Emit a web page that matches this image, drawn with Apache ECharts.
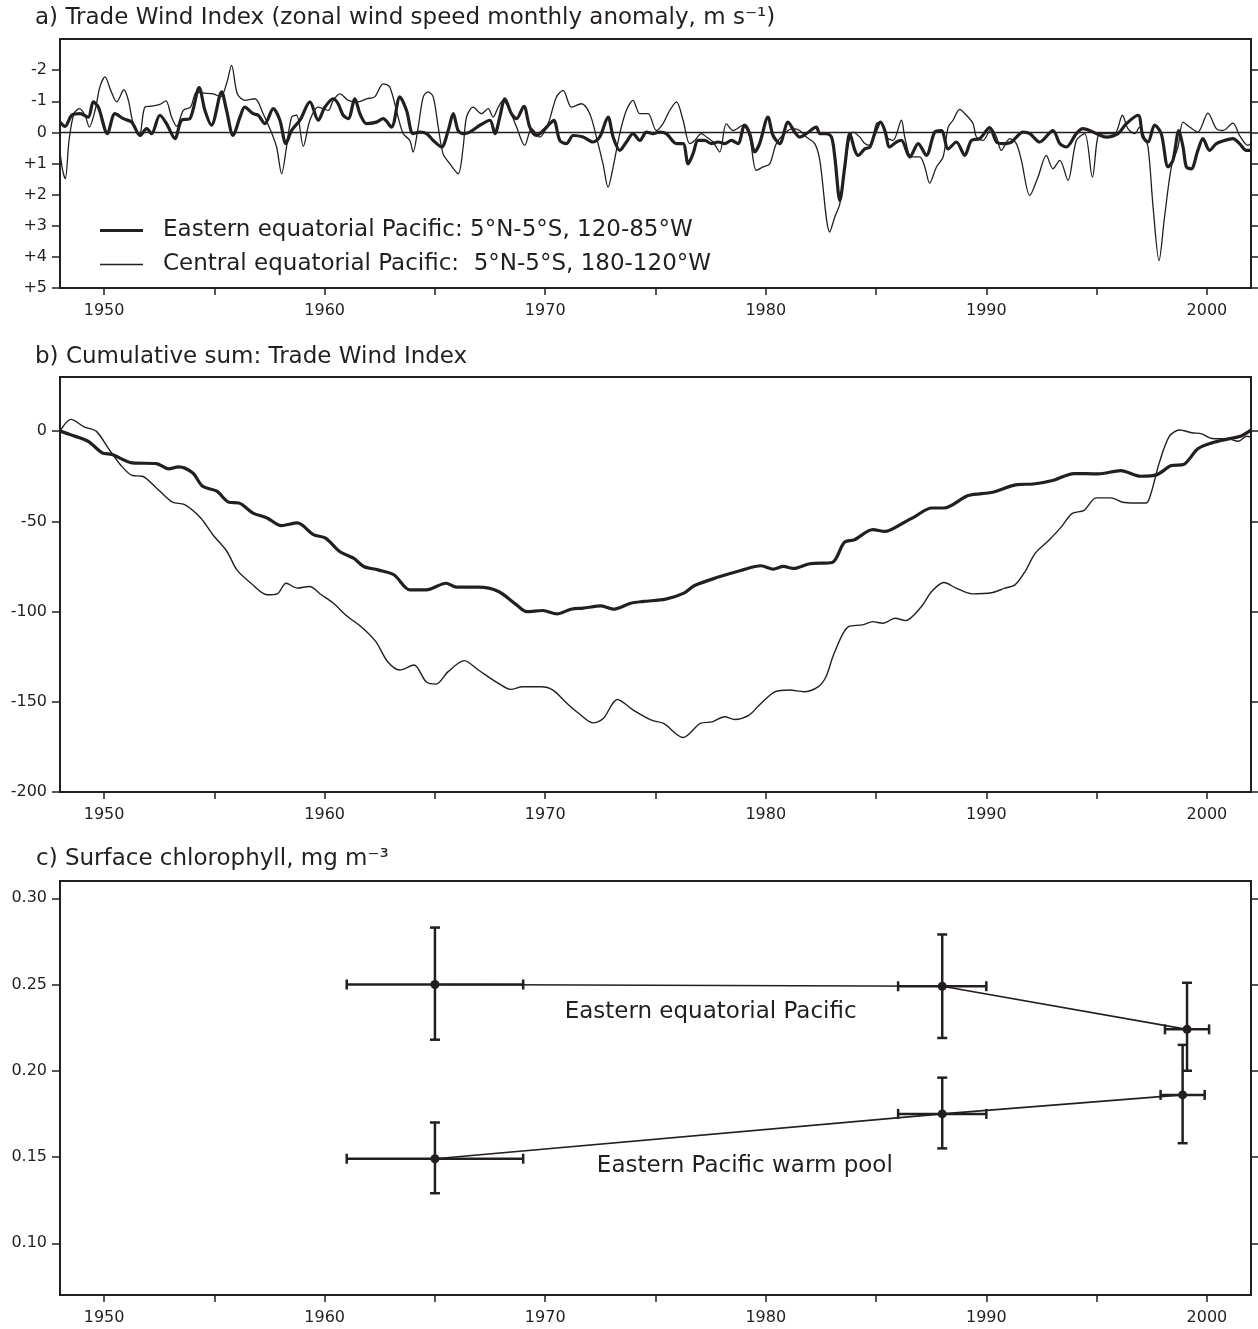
<!DOCTYPE html>
<html>
<head>
<meta charset="utf-8">
<script src="https://cdn.jsdelivr.net/npm/echarts@6/dist/echarts.min.js"></script>
<style>
  html, body { margin: 0; padding: 0; background: #fff; }
  #chart { width: 1258px; height: 1329px; }
</style>
</head>
<body>
<div id="chart"></div>
<script>
// axis ticks / labels
const yearTicks = [1950, 1955, 1960, 1965, 1970, 1975, 1980, 1985, 1990, 1995, 2000]
const yearLabels = [1950, 1960, 1970, 1980, 1990, 2000]
const windTicks = [-2, -1, 0, 1, 2, 3, 4, 5]
const cumTicks = [0, -50, -100, -150, -200]
const chlTicks = [0.10, 0.15, 0.20, 0.25, 0.30]

const eastName = 'Eastern equatorial Pacific: 5°N-5°S, 120-85°W'
const centralName = 'Central equatorial Pacific:  5°N-5°S, 180-120°W'

// a) trade wind index, [year, m/s anomaly]
const eastAnomaly = [
  [1948.00,-0.33],[1948.23,-0.19],[1948.53,-0.55],[1948.91,-0.60],[1949.28,-0.49],[1949.51,-0.98],[1949.74,-0.81],
  [1950.15,0.04],[1950.49,-0.60],[1950.87,-0.44],[1951.25,-0.33],[1951.63,0.10],[1951.93,-0.12],[1952.15,0.04],
  [1952.53,-0.55],[1952.83,-0.28],[1953.21,0.20],[1953.51,-0.39],[1953.89,-0.44],[1954.31,-1.44],[1954.57,-0.71],
  [1954.87,-0.23],[1955.33,-1.30],[1955.55,-0.71],[1955.85,0.10],[1956.16,-0.49],[1956.38,-0.81],[1956.76,-0.60],
  [1956.99,-0.55],[1957.29,-0.28],[1957.67,-0.76],[1957.97,-0.39],[1958.24,0.36],[1958.50,-0.06],[1958.88,-0.39],
  [1959.33,-0.98],[1959.71,-0.39],[1960.01,-0.81],[1960.39,-1.08],[1960.61,-0.92],[1960.84,-0.55],[1961.07,-0.44],
  [1961.37,-1.08],[1961.60,-0.60],[1961.90,-0.28],[1962.35,-0.33],[1962.65,-0.44],[1963.03,-0.17],[1963.41,-1.14],
  [1963.71,-0.71],[1964.01,0.04],[1964.32,-0.01],[1964.62,0.04],[1964.92,0.26],[1965.30,0.47],[1965.60,-0.06],
  [1965.83,-0.60],[1966.05,-0.06],[1966.28,0.04],[1966.58,-0.01],[1967.04,-0.23],[1967.49,-0.39],[1967.72,0.04],
  [1967.94,-0.49],[1968.17,-1.08],[1968.47,-0.60],[1968.70,-0.44],[1969.03,-0.84],[1969.30,-0.17],[1969.60,0.10],
  [1969.91,-0.06],[1970.21,-0.28],[1970.39,-0.39],[1970.66,0.26],[1970.96,0.36],[1971.27,0.10],[1971.72,0.15],
  [1972.17,0.31],[1972.47,0.15],[1972.85,-0.49],[1973.08,0.15],[1973.38,0.58],[1973.68,0.31],[1973.98,0.04],
  [1974.29,0.26],[1974.59,-0.01],[1974.89,0.04],[1975.19,-0.01],[1975.49,0.04],[1975.95,0.36],[1976.25,0.36],
  [1976.48,1.01],[1976.70,0.69],[1976.93,0.26],[1977.23,0.26],[1977.53,0.36],[1977.84,0.31],[1978.14,0.36],
  [1978.44,0.26],[1978.74,0.36],[1979.04,-0.23],[1979.27,0.04],[1979.50,0.63],[1979.72,0.36],[1980.10,-0.49],
  [1980.33,0.10],[1980.63,0.36],[1981.01,-0.33],[1981.31,-0.01],[1981.54,0.15],[1981.84,0.04],[1982.29,-0.17],
  [1982.45,0.04],[1982.75,0.04],[1982.98,0.15],[1983.13,0.79],[1983.36,2.19],[1983.58,1.11],[1983.81,0.04],
  [1984.04,0.58],[1984.19,0.74],[1984.49,0.53],[1984.72,0.47],[1984.94,0.04],[1985.20,-0.33],[1985.40,-0.06],
  [1985.62,0.47],[1985.92,0.31],[1986.15,0.26],[1986.53,0.79],[1986.91,0.36],[1987.28,0.74],[1987.66,-0.01],
  [1987.96,-0.06],[1988.27,0.53],[1988.64,0.31],[1989.02,0.74],[1989.32,0.26],[1989.70,0.20],[1990.15,-0.15],
  [1990.46,0.31],[1990.76,0.36],[1991.14,0.31],[1991.66,-0.01],[1991.97,0.04],[1992.42,0.31],[1993.02,-0.06],
  [1993.33,0.36],[1993.63,0.47],[1994.08,0.04],[1994.38,-0.12],[1994.69,-0.06],[1994.99,0.04],[1995.44,0.15],
  [1995.97,0.04],[1996.35,-0.28],[1996.88,-0.55],[1997.10,0.15],[1997.33,0.31],[1997.63,-0.23],[1997.93,0.04],
  [1998.24,1.11],[1998.46,0.90],[1998.73,-0.06],[1998.92,0.47],[1999.07,1.11],[1999.29,1.17],[1999.59,0.58],
  [1999.82,0.20],[2000.12,0.58],[2000.43,0.36],[2000.80,0.26],[2001.18,0.20],[2001.48,0.36],[2001.79,0.58],
  [2002.00,0.58]
]
const centralAnomaly = [
  [1948.00,0.63],[1948.12,1.22],[1948.24,1.49],[1948.41,0.26],[1948.63,-0.60],[1948.88,-0.76],[1949.13,-0.55],
  [1949.33,-0.17],[1949.59,-0.71],[1949.81,-1.46],[1950.04,-1.78],[1950.30,-1.35],[1950.57,-0.98],[1950.90,-1.37],
  [1951.10,-1.03],[1951.32,-0.28],[1951.60,0.10],[1951.85,-0.81],[1952.15,-0.84],[1952.53,-0.90],[1952.80,-1.01],
  [1953.06,-0.49],[1953.29,-0.19],[1953.59,-0.71],[1953.92,-0.81],[1954.19,-1.29],[1954.53,-1.26],[1954.95,-1.24],
  [1955.28,-1.14],[1955.55,-1.56],[1955.78,-2.15],[1956.04,-1.24],[1956.38,-1.03],[1956.84,-1.08],[1957.21,-0.60],
  [1957.55,-0.06],[1957.82,0.47],[1958.05,1.33],[1958.27,0.47],[1958.50,-0.49],[1958.73,-0.55],[1959.03,0.45],
  [1959.33,-0.39],[1959.71,-0.81],[1960.16,-0.71],[1960.39,-1.03],[1960.69,-1.24],[1961.07,-1.03],[1961.52,-0.98],
  [1961.90,-1.08],[1962.27,-1.14],[1962.65,-1.56],[1962.95,-1.46],[1963.33,-0.49],[1963.56,0.04],[1963.86,0.26],
  [1964.01,0.63],[1964.24,-0.17],[1964.47,-1.14],[1964.69,-1.30],[1964.92,-1.14],[1965.15,-0.17],[1965.37,0.69],
  [1965.68,1.01],[1966.05,1.33],[1966.28,0.47],[1966.43,-0.49],[1966.73,-0.81],[1967.11,-0.60],[1967.41,-0.76],
  [1967.64,-0.49],[1967.87,-0.81],[1968.09,-1.03],[1968.39,-0.71],[1968.70,-0.17],[1969.07,0.42],[1969.38,-0.12],
  [1969.75,0.15],[1970.13,-0.28],[1970.51,-1.14],[1970.81,-1.35],[1971.19,-0.81],[1971.64,-0.92],[1972.02,-0.60],
  [1972.32,0.15],[1972.62,1.01],[1972.85,1.76],[1973.08,1.11],[1973.38,0.04],[1973.68,-0.71],[1973.98,-1.03],
  [1974.29,-0.60],[1974.66,-0.60],[1975.04,-0.06],[1975.34,-0.28],[1975.65,-0.71],[1975.95,-0.98],[1976.25,-0.39],
  [1976.55,0.36],[1976.78,0.26],[1977.08,0.04],[1977.31,0.15],[1977.61,0.31],[1977.91,0.63],[1978.21,-0.28],
  [1978.52,-0.06],[1978.97,-0.23],[1979.27,0.15],[1979.57,1.22],[1979.88,1.11],[1980.18,1.01],[1980.48,0.36],
  [1980.93,-0.01],[1981.23,-0.12],[1981.54,-0.06],[1981.84,0.15],[1982.22,0.36],[1982.45,0.90],[1982.90,3.20],
  [1983.13,2.72],[1983.36,2.29],[1983.58,1.11],[1983.81,0.15],[1983.96,-0.01],[1984.26,0.15],[1984.49,0.36],
  [1984.72,0.42],[1985.02,-0.28],[1985.24,-0.33],[1985.47,0.15],[1985.77,0.26],[1986.15,-0.39],[1986.30,0.15],
  [1986.60,0.79],[1986.98,0.79],[1987.21,1.11],[1987.43,1.63],[1987.74,1.11],[1988.04,0.79],[1988.27,-0.17],
  [1988.49,-0.39],[1988.79,-0.74],[1989.10,-0.55],[1989.40,-0.28],[1989.55,0.15],[1989.85,0.26],[1990.23,-0.12],
  [1990.46,0.15],[1990.68,0.58],[1991.06,0.20],[1991.36,0.36],[1991.59,0.90],[1991.97,2.03],[1992.34,1.44],
  [1992.72,0.74],[1993.02,1.17],[1993.33,0.90],[1993.70,1.54],[1994.08,0.26],[1994.46,0.04],[1994.81,1.44],
  [1995.14,0.04],[1995.59,0.04],[1995.89,-0.01],[1996.17,-0.55],[1996.42,-0.12],[1996.73,0.04],[1996.95,-0.17],
  [1997.10,0.04],[1997.33,0.47],[1997.56,2.40],[1997.83,4.12],[1998.08,2.72],[1998.39,1.11],[1998.69,0.47],
  [1998.92,-0.33],[1999.22,-0.17],[1999.59,-0.01],[2000.05,-0.62],[2000.43,-0.12],[2000.73,-0.06],[2001.18,-0.30],
  [2001.48,0.10],[2001.86,0.42],[2002.00,0.36]
]

// b) cumulative sums, [year, m/s]
const eastCumSum = [
  [1948.0,0],[1948.45,-1.9],[1949.27,-5.6],[1949.91,-12.0],[1950.36,-13.0],[1951.28,-17.6],[1952.37,-18.0],
  [1952.92,-20.9],[1953.38,-19.8],[1954.01,-23.1],[1954.47,-30.6],[1955.11,-33.3],[1955.66,-39.4],[1956.11,-39.8],
  [1956.75,-45.4],[1957.39,-48.1],[1958.03,-52.4],[1958.76,-50.9],[1959.49,-57.4],[1960.04,-59.3],[1960.68,-66.7],
  [1961.31,-70.4],[1961.77,-75.0],[1962.41,-76.9],[1963.14,-79.6],[1963.87,-88.0],[1964.60,-88.0],[1965.51,-84.3],
  [1965.97,-86.5],[1966.97,-86.5],[1967.88,-88.9],[1968.70,-96.3],[1969.16,-100.0],[1969.89,-99.4],[1970.53,-101.3],
  [1971.17,-98.7],[1971.72,-98.1],[1972.54,-96.9],[1973.08,-98.7],[1973.87,-95.4],[1974.45,-94.4],[1975.46,-93.1],
  [1976.29,-89.8],[1976.75,-85.7],[1977.85,-80.9],[1978.87,-77.2],[1979.79,-74.6],[1980.34,-76.5],[1980.80,-75.0],
  [1981.26,-76.1],[1981.99,-73.5],[1983.01,-72.8],[1983.56,-61.7],[1984.02,-60.2],[1984.85,-54.6],[1985.40,-55.6],
  [1986.23,-50.9],[1986.78,-47.2],[1987.52,-42.6],[1988.08,-42.6],[1989.18,-35.7],[1990.29,-33.9],[1991.39,-29.6],
  [1992.13,-29.3],[1993.05,-27.2],[1993.97,-23.5],[1995.07,-23.7],[1996.09,-21.9],[1997.01,-25.0],[1997.74,-24.1],
  [1998.39,-19.1],[1998.94,-18.5],[1999.59,-9.8],[2000.23,-6.5],[2000.97,-4.3],[2001.52,-2.8],[2002.0,0.6]
]
const centralCumSum = [
  [1948.0,0],[1948.5,6.5],[1949.09,2.4],[1949.64,0],[1950.18,-9.3],[1950.73,-18.5],[1951.28,-24.6],[1951.73,-25.0],
  [1952.37,-31.5],[1953.10,-39.4],[1953.65,-40.7],[1954.38,-48.1],[1954.93,-57.4],[1955.57,-66.7],[1956.02,-76.9],
  [1956.66,-84.3],[1957.39,-90.7],[1957.85,-90.2],[1958.25,-84.3],[1958.76,-87.0],[1959.31,-86.1],[1959.85,-90.7],
  [1960.40,-95.4],[1960.95,-101.9],[1961.68,-108.7],[1962.32,-116.7],[1962.86,-127.8],[1963.41,-132.4],[1964.05,-129.6],
  [1964.60,-138.9],[1965.05,-140.2],[1965.60,-133.3],[1966.33,-127.2],[1966.97,-132.4],[1967.88,-139.8],[1968.43,-143.1],
  [1968.98,-141.7],[1969.80,-141.7],[1970.35,-143.5],[1970.99,-150.9],[1971.53,-156.5],[1972.17,-161.7],[1972.63,-159.3],
  [1973.27,-148.7],[1973.99,-154.6],[1974.82,-160.2],[1975.37,-162.0],[1976.25,-169.8],[1977.03,-162.0],[1977.58,-161.1],
  [1978.13,-158.3],[1978.59,-159.8],[1979.24,-157.4],[1979.70,-151.9],[1980.43,-144.4],[1981.08,-143.5],[1981.72,-144.4],
  [1982.37,-141.7],[1982.73,-136.1],[1983.10,-123.1],[1983.75,-108.3],[1984.39,-107.4],[1984.85,-105.6],[1985.31,-106.5],
  [1985.87,-103.7],[1986.33,-105.0],[1987.06,-97.2],[1987.52,-88.9],[1988.08,-83.9],[1988.63,-87.0],[1989.36,-90.2],
  [1990.29,-89.4],[1990.84,-87.0],[1991.30,-85.2],[1991.76,-77.8],[1992.22,-67.6],[1992.86,-60.2],[1993.42,-52.8],
  [1993.88,-45.7],[1994.43,-43.9],[1994.98,-37.0],[1995.63,-37.0],[1996.18,-39.4],[1996.73,-39.8],[1997.25,-39.8],
  [1997.47,-34.3],[1997.84,-17.6],[1998.30,-2.8],[1998.76,0.6],[1999.31,-0.9],[1999.77,-1.5],[2000.23,-4.1],
  [2000.97,-4.3],[2001.43,-5.6],[2001.80,-2.8],[2002.0,-3.1]
]

// c) chlorophyll means with x (years) and y (mg m-3) ranges
const eepPoints = [[1965.0, 0.250], [1988.0, 0.249], [1999.1, 0.224]]
const eepYearRange = [[1961.0, 1969.0], [1986.0, 1990.0], [1998.1, 2000.1]]
const eepChlRange = [[0.218, 0.283], [0.219, 0.279], [0.200, 0.251]]
const poolPoints = [[1965.0, 0.149], [1988.0, 0.175], [1998.9, 0.186]]
const poolYearRange = [[1961.0, 1969.0], [1986.0, 1990.0], [1997.9, 1999.9]]
const poolChlRange = [[0.129, 0.170], [0.155, 0.196], [0.158, 0.215]]
const chlLabels = [
  { name: 'Eastern equatorial Pacific', value: [1977.5, 0.234] },
  { name: 'Eastern Pacific warm pool', value: [1979.05, 0.145] },
]

const ink = '#231f20'
const font = 'DejaVu Sans'

const chart = echarts.init(document.getElementById('chart'))

const yearAxis = (gridIndex) => ({
  type: 'value',
  gridIndex,
  min: 1948,
  max: 2002,
  splitLine: { show: false },
  axisLine: { onZero: false, lineStyle: { color: ink, width: 2 } },
  axisTick: { length: 7, customValues: yearTicks, lineStyle: { color: ink, width: 1.5 } },
  axisLabel: {
    customValues: yearLabels,
    formatter: (v) => String(v),
    margin: 15,
    fontSize: 16,
    color: ink,
    fontFamily: font,
  },
})

const valueAxis = (gridIndex, position, min, max, ticks, formatter, inverse) => ({
  type: 'value',
  gridIndex,
  position,
  min,
  max,
  inverse: !!inverse,
  splitLine: { show: false },
  axisLine: { show: true, onZero: false, lineStyle: { color: ink, width: 2 } },
  axisTick: { length: 8, customValues: ticks, lineStyle: { color: ink, width: 1.5 } },
  axisLabel: {
    show: position === 'left',
    customValues: ticks,
    formatter,
    margin: 13,
    fontSize: 16,
    color: ink,
    fontFamily: font,
  },
})

const signed = (v) => (v > 0 ? '+' + v : String(v))
const twoDp = (v) => v.toFixed(2)

// 误差棒: horizontal = year range, vertical = chlorophyll range
const errorBar = (params, api) => {
  const x = api.value(0)
  const y = api.value(1)
  const mid = api.coord([x, y])
  const left = api.coord([api.value(2), y])
  const right = api.coord([api.value(3), y])
  const low = api.coord([x, api.value(4)])
  const high = api.coord([x, api.value(5)])
  const cap = 5
  const style = { stroke: ink, lineWidth: 2.5 }
  const seg = (x1, y1, x2, y2) => ({ type: 'line', shape: { x1, y1, x2, y2 }, style })
  return {
    type: 'group',
    children: [
      seg(left[0], mid[1], right[0], mid[1]),
      seg(left[0], mid[1] - cap, left[0], mid[1] + cap),
      seg(right[0], mid[1] - cap, right[0], mid[1] + cap),
      seg(mid[0], low[1], mid[0], high[1]),
      seg(mid[0] - cap, low[1], mid[0] + cap, low[1]),
      seg(mid[0] - cap, high[1], mid[0] + cap, high[1]),
    ],
  }
}

const barData = (points, xr, yr) => points.map((p, i) => [p[0], p[1], xr[i][0], xr[i][1], yr[i][0], yr[i][1]])

const wiggle = (name, data, xi, yi, width, extra) => ({
  name,
  type: 'line',
  xAxisIndex: xi,
  yAxisIndex: yi,
  data,
  symbol: 'none',
  smooth: 0.3,
  lineStyle: { color: ink, width },
  itemStyle: { color: ink },
  ...extra,
})

// one legend per row so each key line can get its own thickness
const keyRow = (name, top, thickness) => ({
  left: 100,
  top,
  padding: 0,
  icon: 'rect',
  itemWidth: 43,
  itemHeight: thickness,
  selectedMode: false,
  data: [name],
  itemStyle: { color: ink, borderWidth: 0 },
  textStyle: { fontSize: 23, color: ink, fontFamily: font, padding: [0, 0, 0, 15] },
})

const titleStyle = { fontSize: 23, fontWeight: 'normal', color: ink, fontFamily: font }

chart.setOption({
  animation: false,
  backgroundColor: '#fff',
  title: [
    { text: 'a) Trade Wind Index (zonal wind speed monthly anomaly, m s⁻¹)', left: 35, top: 7, padding: 0, textStyle: titleStyle },
    { text: 'b) Cumulative sum: Trade Wind Index', left: 35, top: 346, padding: 0, textStyle: titleStyle },
    { text: 'c) Surface chlorophyll, mg m⁻³', left: 36, top: 848, padding: 0, textStyle: titleStyle },
  ],
  legend: [keyRow(eastName, 219, 3), keyRow(centralName, 253, 1.4)],
  grid: [
    { left: 60, right: 7, top: 39, height: 249, show: true, borderColor: ink, borderWidth: 2 },
    { left: 60, right: 7, top: 377, height: 415, show: true, borderColor: ink, borderWidth: 2 },
    { left: 60, right: 7, top: 881, height: 414, show: true, borderColor: ink, borderWidth: 2 },
  ],
  xAxis: [yearAxis(0), yearAxis(1), yearAxis(2)],
  yAxis: [
    valueAxis(0, 'left', -3, 5, windTicks, signed, true),
    valueAxis(0, 'right', -3, 5, windTicks, signed, true),
    valueAxis(1, 'left', -200, 30, cumTicks, (v) => String(v)),
    valueAxis(1, 'right', -200, 30, cumTicks, (v) => String(v)),
    valueAxis(2, 'left', 0.07, 0.31, chlTicks, twoDp),
    valueAxis(2, 'right', 0.07, 0.31, chlTicks, twoDp),
  ],
  series: [
    wiggle(centralName, centralAnomaly, 0, 0, 1.3, {
      markLine: {
        silent: true,
        symbol: ['none', 'none'],
        label: { show: false },
        lineStyle: { color: ink, width: 1.4, type: 'solid' },
        data: [{ yAxis: 0 }],
      },
    }),
    wiggle(eastName, eastAnomaly, 0, 0, 3.2),
    wiggle('central cumulative', centralCumSum, 1, 2, 1.4),
    wiggle('east cumulative', eastCumSum, 1, 2, 3.2),
    {
      type: 'custom',
      xAxisIndex: 2,
      yAxisIndex: 4,
      renderItem: errorBar,
      encode: { x: 0, y: 1 },
      data: barData(eepPoints, eepYearRange, eepChlRange),
      z: 3,
    },
    {
      type: 'custom',
      xAxisIndex: 2,
      yAxisIndex: 4,
      renderItem: errorBar,
      encode: { x: 0, y: 1 },
      data: barData(poolPoints, poolYearRange, poolChlRange),
      z: 3,
    },
    {
      name: 'eep chl',
      type: 'line',
      xAxisIndex: 2,
      yAxisIndex: 4,
      data: eepPoints,
      symbol: 'circle',
      symbolSize: 9,
      lineStyle: { color: ink, width: 1.6 },
      itemStyle: { color: ink },
      z: 4,
    },
    {
      name: 'pool chl',
      type: 'line',
      xAxisIndex: 2,
      yAxisIndex: 4,
      data: poolPoints,
      symbol: 'circle',
      symbolSize: 9,
      lineStyle: { color: ink, width: 1.6 },
      itemStyle: { color: ink },
      z: 4,
    },
    {
      type: 'scatter',
      xAxisIndex: 2,
      yAxisIndex: 4,
      data: chlLabels,
      symbolSize: 1,
      itemStyle: { color: 'transparent', opacity: 1 },
      label: {
        show: true,
        position: 'inside',
        formatter: (p) => p.name,
        fontSize: 23,
        color: ink,
        opacity: 1,
        fontFamily: font,
      },
      silent: true,
    },
  ],
})
</script>
</body>
</html>
